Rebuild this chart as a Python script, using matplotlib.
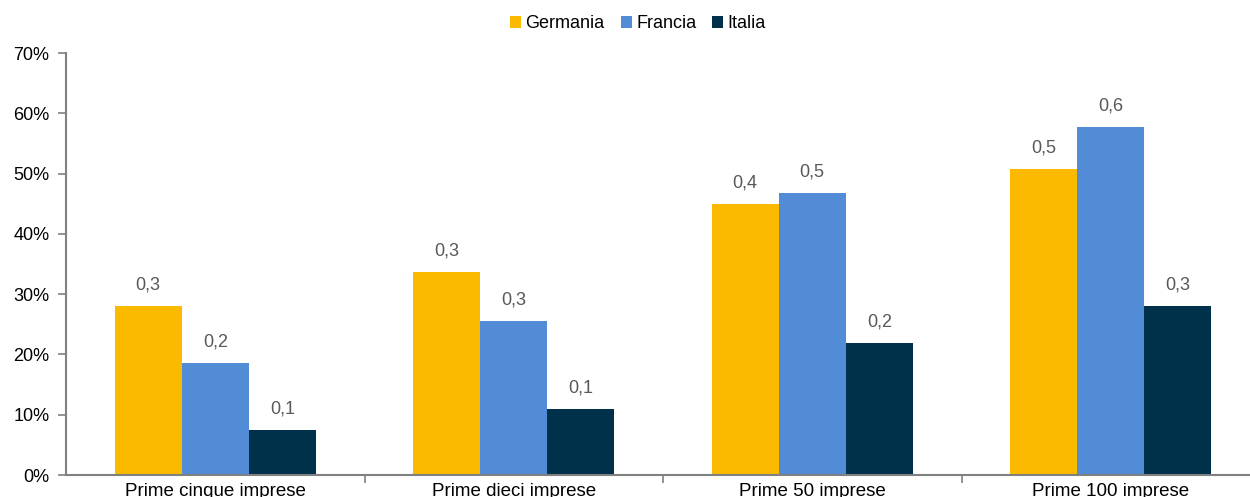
import numpy as np
import matplotlib.pyplot as plt
from matplotlib.ticker import FuncFormatter, FixedLocator

plt.rcParams['font.family'] = ['Liberation Sans', 'DejaVu Sans']

categorie = ["Prime cinque imprese", "Prime dieci imprese", "Prime 50 imprese", "Prime 100 imprese"]
paesi = ["Germania", "Francia", "Italia"]
germania = [0.280, 0.337, 0.449, 0.507]
francia = [0.186, 0.255, 0.468, 0.577]
italia = [0.075, 0.109, 0.219, 0.280]
colori = ["#FBBA00", "#528CD6", "#00314B"]

fig = plt.figure(figsize=(12.5, 4.97), dpi=100)
# l'asse x continua oltre il bordo destro della figura
ax = fig.add_axes([66 / 1250, 22 / 497, 1194 / 1250, 422 / 497])

x = np.arange(len(categorie))
w = 0.225
for i, (nome, valori, col) in enumerate(zip(paesi, [germania, francia, italia], colori)):
    barre = ax.bar(x + (i - 1) * w, valori, w, color=col, label=nome, zorder=2)
    for b, v in zip(barre, valori):
        ax.annotate(f"{v:.1f}".replace(".", ","),
                    (b.get_x() + b.get_width() / 2, v),
                    xytext=(0, 9), textcoords="offset points",
                    ha="center", va="bottom", fontsize=13, color="#595959")

ax.set_xlim(-0.5, 3.5)
ax.set_ylim(0, 0.7)
ax.set_yticks(np.arange(0, 0.71, 0.1))
ax.yaxis.set_major_formatter(FuncFormatter(lambda v, p: f"{v * 100:.0f}%"))
ax.tick_params(axis="y", length=6, width=1.2, color="#808080", labelsize=13, pad=6)

ax.set_xticks(x)
ax.set_xticklabels(categorie, fontsize=13.5)
ax.tick_params(axis="x", which="major", length=0, pad=6)
ax.xaxis.set_minor_locator(FixedLocator([0.5, 1.5, 2.5, 3.5]))
ax.tick_params(axis="x", which="minor", length=6, width=1.2, color="#808080")

for s in ["top", "right"]:
    ax.spines[s].set_visible(False)
for s in ["left", "bottom"]:
    ax.spines[s].set_color("#808080")
    ax.spines[s].set_linewidth(1.5)

fig.legend(loc="center", bbox_to_anchor=(638 / 1250, 1 - 24 / 497), ncol=3,
           frameon=False, fontsize=13, handlelength=0.6, handleheight=0.6,
           handletextpad=0.25, columnspacing=0.9)

fig.savefig("out.png", dpi=100)
